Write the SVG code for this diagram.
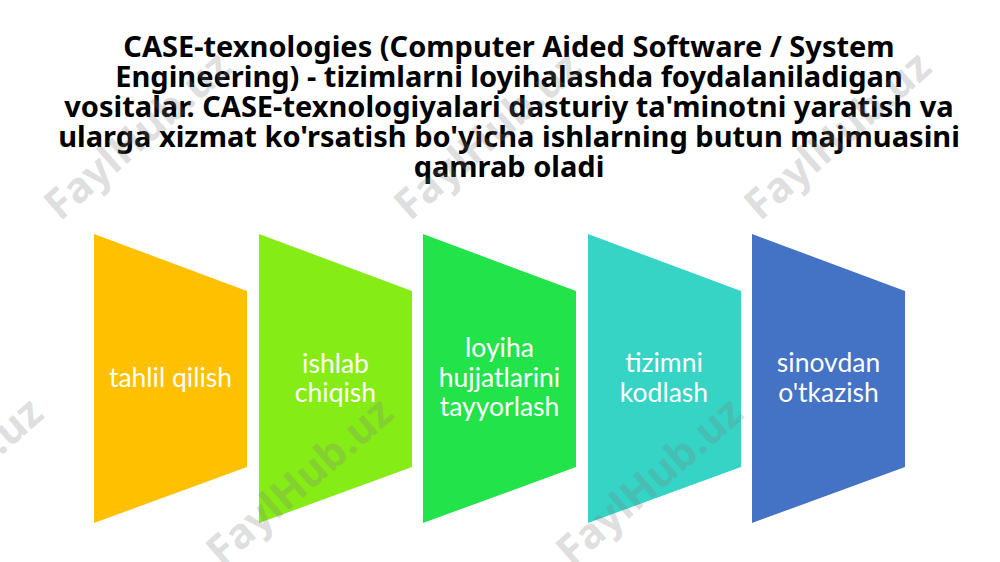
<svg xmlns="http://www.w3.org/2000/svg" width="1000" height="562" viewBox="0 0 1000 562">
  <style>
    .title { font-family: "Noto Sans", "Open Sans", sans-serif; font-weight: bold; font-size: 29px; fill: #000000; text-anchor: middle; }
    .lbl { font-family: Lato, "Liberation Sans", sans-serif; font-size: 26.5px; fill: #ffffff; text-anchor: middle; }
    .wm { font-family: "Noto Sans", "Open Sans", sans-serif; font-weight: bold; font-size: 42px; fill: #7f7f7f; fill-opacity: 0.25; }
  </style>
  <defs>
    <polygon id="chev" points="0,234 153,291 153,467 0,523"/>
  </defs>
  <rect x="0" y="0" width="1000" height="562" fill="#ffffff"/>

  <g id="title">
    <text class="title" x="509" y="57">CASE-texnologies (Computer Aided Software / System</text>
    <text class="title" x="509" y="87">Engineering) - tizimlarni loyihalashda foydalaniladigan</text>
    <text class="title" x="509" y="117">vositalar. CASE-texnologiyalari dasturiy ta'minotni yaratish va</text>
    <text class="title" x="509" y="147">ularga xizmat ko'rsatish bo'yicha ishlarning butun majmuasini</text>
    <text class="title" x="509" y="177">qamrab oladi</text>
  </g>

  <g id="connectors"></g>

  <g id="node1">
    <use href="#chev" x="94" fill="#FFC000"/>
    <text class="lbl" x="170.5" y="387">tahlil qilish</text>
  </g>
  <g id="node2">
    <use href="#chev" x="259" fill="#86EC16"/>
    <text class="lbl" x="335.5" y="373">ishlab</text>
    <text class="lbl" x="335.5" y="402">chiqish</text>
  </g>
  <g id="node3">
    <use href="#chev" x="423" fill="#23E34A"/>
    <text class="lbl" x="499.5" y="357">loyiha</text>
    <text class="lbl" x="499.5" y="387">hujjatlarini</text>
    <text class="lbl" x="499.5" y="416">tayyorlash</text>
  </g>
  <g id="node4">
    <use href="#chev" x="588" fill="#35D4C5"/>
    <text class="lbl" x="664" y="372">tizimni</text>
    <text class="lbl" x="664" y="402">kodlash</text>
  </g>
  <g id="node5">
    <use href="#chev" x="752" fill="#4472C4"/>
    <text class="lbl" x="828.5" y="372">sinovdan</text>
    <text class="lbl" x="828.5" y="402">o'tkazish</text>
  </g>

  <g id="watermarks">
    <text class="wm" transform="translate(60,222) rotate(-41)">FaylHub.uz</text>
    <text class="wm" transform="translate(410,222) rotate(-41)">FaylHub.uz</text>
    <text class="wm" transform="translate(760,222) rotate(-41)">FaylHub.uz</text>
    <text class="wm" transform="translate(-128,568) rotate(-41)">FaylHub.uz</text>
    <text class="wm" transform="translate(222,568) rotate(-41)">FaylHub.uz</text>
    <text class="wm" transform="translate(572,568) rotate(-41)">FaylHub.uz</text>
  </g>
</svg>
